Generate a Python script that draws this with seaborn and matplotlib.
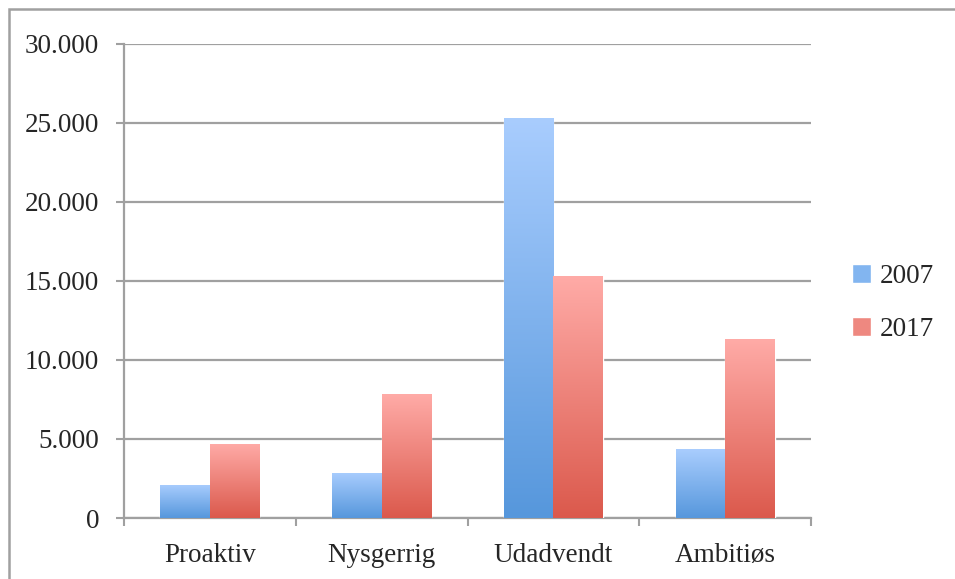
import numpy as np
import pandas as pd
import matplotlib.pyplot as plt
import seaborn as sns
from matplotlib.colors import LinearSegmentedColormap
from matplotlib.patches import Rectangle, Patch
from matplotlib.ticker import FuncFormatter, FixedLocator

# Daten
kategorier = ["Proaktiv", "Nysgerrig", "Udadvendt", "Ambitiøs"]
aar = ["2007", "2017"]
v2007 = [2100, 2860, 25320, 4360]
v2017 = [4680, 7830, 15280, 11300]

df = pd.DataFrame({
    "kategori": kategorier * 2,
    "aar": [aar[0]] * 4 + [aar[1]] * 4,
    "vaerdi": v2007 + v2017,
})

# Farben (oben hell -> unten dunkel)
blau = ("#a9cdfe", "#5697dc")
rot = ("#ffaba7", "#db594c")

sns.set_theme(style="white")
plt.rcParams["font.family"] = ["Liberation Serif", "DejaVu Serif"]
grau = "#a0a0a0"
fs = 19.5

fig = plt.figure(figsize=(9.55, 5.79), dpi=100)
ax = fig.add_axes([124 / 955, 61 / 579, 687 / 955, 474.5 / 579])

sns.barplot(data=df, x="kategori", y="vaerdi", hue="aar",
            palette=[blau[1], rot[1]], width=0.577, gap=0,
            legend=False, ax=ax, zorder=3)

# Verlauf in jeden Balken legen
for i, bar in enumerate(ax.patches):
    farben = blau if i < len(kategorier) else rot
    cmap = LinearSegmentedColormap.from_list("g", [farben[1], farben[0]])
    x0, y0 = bar.get_x(), bar.get_y()
    w, h = bar.get_width(), bar.get_height()
    grad = np.linspace(0, 1, 256).reshape(-1, 1)
    img = ax.imshow(grad, cmap=cmap, origin="lower", aspect="auto",
                    extent=[x0, x0 + w, y0, y0 + h], zorder=4)
    img.set_clip_path(bar)

ax.set_xlim(-0.5, 3.5)
ax.set_ylim(0, 30000)
ax.set_yticks(np.arange(0, 30001, 5000))
ax.yaxis.set_major_formatter(FuncFormatter(lambda v, p: f"{v:,.0f}".replace(",", ".")))
ax.grid(axis="y", color=grau, linewidth=1.6, zorder=0)
ax.set_axisbelow(True)

# x-Ticks an den Kategoriegrenzen, Beschriftung in der Mitte
ax.xaxis.set_major_locator(FixedLocator([-0.5, 0.5, 1.5, 2.5, 3.5]))
ax.xaxis.set_minor_locator(FixedLocator([0, 1, 2, 3]))
ax.set_xticklabels([], minor=False)
ax.set_xticklabels(kategorier, minor=True)
ax.tick_params(axis="x", which="major", length=6, width=1.5, color=grau, direction="out", bottom=True)
ax.tick_params(axis="x", which="minor", length=0, pad=18, labelsize=fs)
ax.tick_params(axis="y", length=6, width=1.5, color=grau, direction="out", left=True, pad=12, labelsize=fs)

for s in ["top", "right"]:
    ax.spines[s].set_visible(False)
for s in ["left", "bottom"]:
    ax.spines[s].set_color(grau)
    ax.spines[s].set_linewidth(1.6)

ax.set_xlabel("")
ax.set_ylabel("")

# Legende
handles = [Patch(facecolor="#82b5f0", label=aar[0]),
           Patch(facecolor="#ee8880", label=aar[1])]
fig.legend(handles=handles, loc="center left", bbox_to_anchor=(0.867, 0.477),
           frameon=False, fontsize=fs, handlelength=0.7, handleheight=0.7,
           handletextpad=0.3, labelspacing=1.05)

# Rahmen um das Diagramm
fig.patches.append(Rectangle((9 / 955, -0.1), 1.2, 1.1 - 9 / 579, transform=fig.transFigure,
                             fill=False, edgecolor=grau, linewidth=1.8))

plt.savefig("out.png", dpi=100)
